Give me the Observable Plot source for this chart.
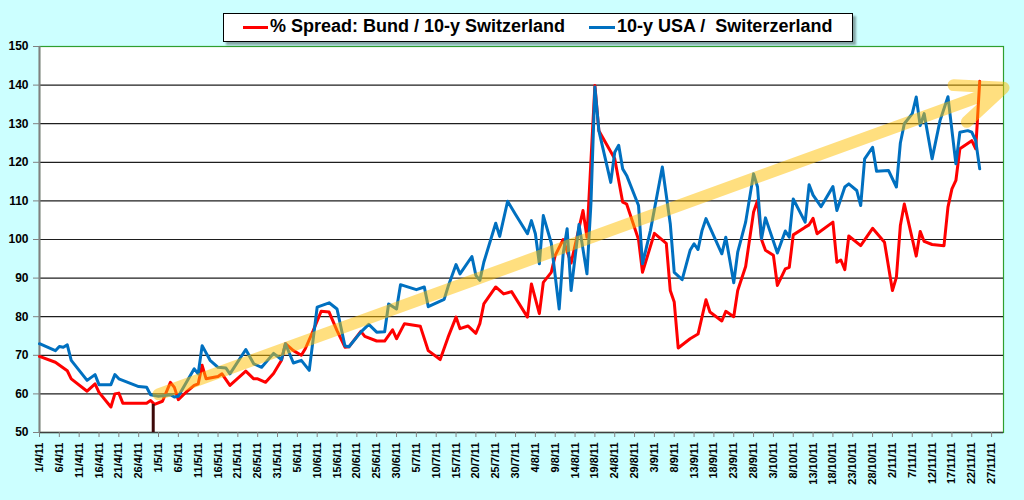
<!DOCTYPE html>
<html><head><meta charset="utf-8">
<script src="https://cdn.jsdelivr.net/npm/d3@7"></script>
<script src="https://cdn.jsdelivr.net/npm/@observablehq/plot@0.6"></script>
<style>
html,body{margin:0;padding:0;background:#ccffff;width:1024px;height:500px;overflow:hidden;font-family:"Liberation Sans",Arial,sans-serif;}
#wrap{position:relative;width:1024px;height:500px;}
#legend{position:absolute;left:223px;top:13px;width:630px;height:29px;box-sizing:border-box;background:#fff;border:1px solid #000;box-shadow:3px 3px 2px rgba(0,0,0,0.35);z-index:2;}
.sw{position:absolute;top:12px;height:3px;}
.lt{position:absolute;top:2px;font-weight:bold;font-size:18px;line-height:20px;white-space:pre;color:#000;}
</style></head><body>
<div id="wrap"><div id="chart"></div>
<div id="legend">
  <div class="sw" style="left:19px;width:25px;background:#ff0000"></div>
  <div class="lt" style="left:46px">% Spread: Bund / 10-y Switzerland</div>
  <div class="sw" style="left:365px;width:26px;background:#0070c0"></div>
  <div class="lt" style="left:393px">10-y USA /  Switerzerland</div>
</div></div>
<script>
// ---- data (2011) ----
const redDates = ["04-01","04-05","04-08","04-09","04-13","04-15","04-16","04-19","04-20","04-21","04-22","04-25","04-28","04-29","04-30",
"05-02","05-04","05-05","05-06","05-08","05-10","05-11","05-12","05-13","05-16","05-17","05-19","05-23","05-25","05-26","05-28","05-30",
"06-01","06-02","06-04","06-06","06-07","06-09","06-11","06-13","06-15","06-17","06-18","06-21","06-22","06-25","06-27","06-29","06-30",
"07-02","07-06","07-08","07-11","07-13","07-15","07-16","07-18","07-20","07-21","07-22","07-25","07-27","07-29",
"08-02","08-03","08-05","08-06","08-08","08-09","08-11","08-13","08-16","08-17","08-19","08-20","08-24","08-26","08-27","08-30","08-31",
"09-03","09-06","09-07","09-08","09-09","09-12","09-14","09-16","09-17","09-20","09-21","09-23","09-24","09-26","09-28","09-29","09-30",
"10-01","10-03","10-04","10-06","10-07","10-08","10-11","10-12","10-13","10-14","10-18","10-19","10-20","10-21","10-22","10-25","10-28","10-31",
"11-02","11-03","11-04","11-05","11-08","11-09","11-10","11-12","11-15","11-16","11-17","11-18","11-19","11-22","11-23","11-24"];
const redValues = [69.7,68.2,66.0,63.9,60.7,62.6,60.4,56.6,60.0,60.2,57.6,57.6,57.6,58.3,57.3,
58.1,63.0,61.7,58.5,60.5,62.2,62.6,67.4,63.9,64.5,65.2,62.2,65.9,63.9,63.9,63.0,65.3,
68.7,73.0,71.2,70.0,71.7,76.4,81.4,81.2,76.4,72.1,72.2,76.2,74.9,73.7,73.7,76.6,74.3,
78.2,77.5,71.2,68.9,74.7,79.9,76.9,77.6,75.7,78.2,83.3,87.7,85.9,86.5,
79.9,88.5,80.8,88.9,91.5,95.9,100.0,93.9,107.5,100.6,139.9,128.2,120.9,109.7,109.2,100.0,91.5,
101.6,99.0,86.8,83.8,71.9,74.3,75.5,84.4,81.2,78.9,81.4,80.0,86.8,93.0,107.1,110.1,100.0,
97.2,95.9,88.1,92.4,92.8,101.2,103.2,103.8,105.5,101.5,104.5,94.1,94.7,92.2,100.9,98.4,102.9,99.3,
86.8,90.2,103.6,109.2,95.7,102.1,99.5,98.7,98.4,108.4,113.1,115.3,123.5,125.6,123.5,141.0];

const blueDates = ["04-01","04-05","04-06","04-07","04-08","04-09","04-13","04-15","04-16","04-19","04-20","04-21","04-26","04-28","04-29",
"05-01","05-04","05-05","05-06","05-10","05-11","05-12","05-14","05-16","05-18","05-19","05-23","05-25","05-27","05-30",
"06-01","06-02","06-04","06-06","06-08","06-10","06-13","06-15","06-17","06-18","06-21","06-23","06-25","06-27","06-28","06-30",
"07-01","07-05","07-07","07-08","07-12","07-13","07-15","07-16","07-19","07-20","07-21","07-22","07-25","07-26","07-28","07-30",
"08-02","08-03","08-04","08-05","08-06","08-08","08-10","08-11","08-12","08-13","08-15","08-17","08-18","08-19","08-20","08-23","08-24","08-25","08-26","08-27","08-30","08-31",
"09-02","09-05","09-07","09-08","09-10","09-12","09-13","09-14","09-15","09-16","09-20","09-21","09-23","09-24","09-26","09-28","09-29","09-30",
"10-01","10-04","10-06","10-07","10-08","10-11","10-12","10-13","10-15","10-18","10-19","10-21","10-22","10-24","10-25","10-26","10-28","10-29",
"11-01","11-03","11-04","11-05","11-07","11-08","11-09","11-10","11-12","11-14","11-16","11-18","11-19","11-21","11-22","11-23","11-24"];
const blueValues = [73.0,71.2,72.3,72.1,72.7,68.7,63.5,65.0,62.4,62.4,65.0,63.9,61.9,61.7,59.8,
59.4,59.8,59.2,59.4,66.5,65.2,72.5,68.7,66.9,66.7,65.2,71.5,67.8,66.9,70.5,
68.9,73.0,68.0,68.7,66.1,82.5,83.6,82.0,72.4,72.2,76.0,78.0,76.0,76.1,83.3,82.0,
88.3,87.0,87.7,82.6,84.5,87.8,93.5,91.1,95.6,90.7,89.4,94.1,104.2,100.8,109.9,106.5,
101.5,104.9,101.5,93.7,106.2,99.1,82.0,96.3,102.8,86.8,103.9,91.1,109.2,139.5,128.2,114.8,122.6,124.4,118.3,116.6,108.8,93.7,
102.3,118.8,104.1,91.5,89.6,97.2,98.9,97.4,102.3,105.4,96.3,100.6,88.8,96.7,104.5,117.0,113.6,100.2,
105.6,96.5,102.2,100.6,110.5,104.5,114.2,111.5,108.5,113.7,107.5,113.6,114.4,112.7,108.8,120.9,123.9,117.7,
117.9,113.6,125.0,130.0,132.6,136.9,129.5,132.6,120.9,130.8,137.0,119.6,127.8,128.2,127.8,125.6,118.3];

// dark drop line (date, top value)
const dropDates = ["2011-04-29T16:00:00Z"];
const dropValues = [57.3];

// yellow trend arrow: start and end
const trendDates = ["2011-05-01", "2011-11-30"];
const trendValues = [59.9, 139.3];

const xTickLabels = ["1/4/11","6/4/11","11/4/11","16/4/11","21/4/11","26/4/11","1/5/11","6/5/11","11/5/11","16/5/11","21/5/11","26/5/11","31/5/11",
"5/6/11","10/6/11","15/6/11","20/6/11","25/6/11","30/6/11","5/7/11","10/7/11","15/7/11","20/7/11","25/7/11","30/7/11",
"4/8/11","9/8/11","14/8/11","19/8/11","24/8/11","29/8/11","3/9/11","8/9/11","13/9/11","18/9/11","23/9/11","28/9/11",
"3/10/11","8/10/11","13/10/11","18/10/11","23/10/11","28/10/11","2/11/11","7/11/11","12/11/11","17/11/11","22/11/11","27/11/11"];
const yTicks = [50,60,70,80,90,100,110,120,130,140,150];
const gridValues = [60,70,80,90,100,110,120,130,140];

// ---- build ----
const md = s => new Date(`2011-${s}T00:00:00Z`);
const redData = redDates.map((d,i) => ({date: md(d), value: redValues[i]}));
const blueData = blueDates.map((d,i) => ({date: md(d), value: blueValues[i]}));
const dropData = dropDates.map((d,i) => ({date: new Date(d), value: dropValues[i]}));
const trendData = [{x1: new Date(trendDates[0]+"T00:00:00Z"), y1: trendValues[0], x2: new Date(trendDates[1]+"T00:00:00Z"), y2: trendValues[1]}];
const xTickDates = xTickLabels.map(s => { const [d,m] = s.split("/").map(Number); return new Date(Date.UTC(2011, m-1, d)); });
const labelOf = new Map(xTickDates.map((d,i) => [+d, xTickLabels[i]]));
const xStart = new Date("2011-04-01T00:00:00Z"), xEnd = new Date("2011-11-30T00:00:00Z");

const chart = Plot.plot({
  width: 1024, height: 500,
  marginTop: 46, marginRight: 21, marginBottom: 68, marginLeft: 39,
  style: {background: "transparent", fontFamily: '"Liberation Sans", Arial, sans-serif', overflow: "visible", color: "#000"},
  x: {type: "utc", domain: [xStart, xEnd]},
  y: {domain: [50, 150]},
  marks: [
    Plot.frame({fill: "#ffffff", stroke: "#2f9e2f", strokeWidth: 1.2}),
    Plot.ruleY(gridValues, {stroke: "#1e1e1e", strokeWidth: 1.2}),
    Plot.ruleY([50], {stroke: "#404040", strokeWidth: 1.5}),
    Plot.ruleX([xStart], {stroke: "#808080", strokeWidth: 2}),
    Plot.axisY(yTicks, {tickSize: 6, tickPadding: 5, fontSize: 12, fontWeight: "bold", stroke: "#808080", fill: "#000", label: null}),
    Plot.axisX(xTickDates, {tickSize: 5, tickPadding: 5, tickRotate: -90, fontSize: 11, fontWeight: "bold", stroke: "#808080", fill: "#000", label: null, tickFormat: d => labelOf.get(+d)}),
    Plot.line(redData, {x: "date", y: "value", stroke: "#ff0000", strokeWidth: 3, strokeLinejoin: "round"}),
    Plot.line(blueData, {x: "date", y: "value", stroke: "#0070c0", strokeWidth: 3, strokeLinejoin: "round"}),
    Plot.ruleX(dropData, {x: "date", y1: 50, y2: "value", stroke: "#3d0808", strokeWidth: 3}),
    Plot.arrow(trendData, {x1: "x1", y1: "y1", x2: "x2", y2: "y2", stroke: "#ffc000", strokeOpacity: 0.5, strokeWidth: 12, headLength: 6.25, headAngle: 46, strokeLinecap: "round", strokeLinejoin: "round"})
  ]
});
document.getElementById("chart").appendChild(chart);
</script>
</body></html>
